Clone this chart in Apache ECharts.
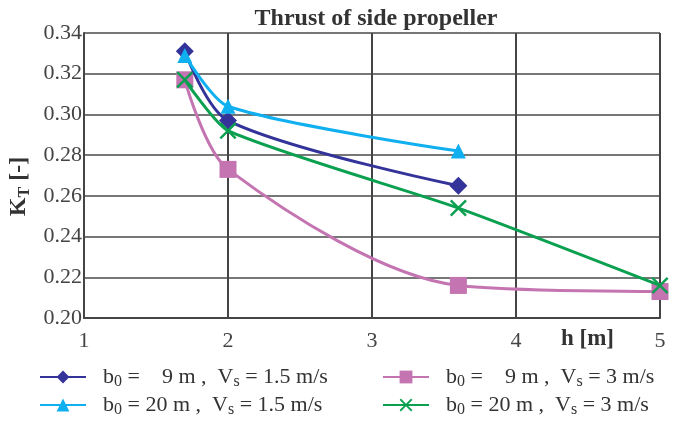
<!DOCTYPE html>
<html><head><meta charset="utf-8">
<script src="https://cdn.jsdelivr.net/npm/echarts@6/dist/echarts.min.js"></script>
<style>html,body{margin:0;padding:0;background:#fff}#c{width:682px;height:421px}</style>
</head><body><div id="c"></div>
<script>
var titleText = 'Thrust of side propeller';
var xTicks = [1, 2, 3, 4, 5];
var yTicks = [0.20, 0.22, 0.24, 0.26, 0.28, 0.30, 0.32, 0.34];
var seriesNames = ['b0=9, Vs=1.5', 'b0=20, Vs=1.5', 'b0=9, Vs=3', 'b0=20, Vs=3'];
var legendB0 = ['   9', '20', '   9', '20'];
var legendVs = ['1.5', '1.5', '3', '3'];
var h_b9_v15 = [1.7, 2.0, 3.6];
var kt_b9_v15 = [0.331, 0.297, 0.265];
var h_b20_v15 = [1.7, 2.0, 3.6];
var kt_b20_v15 = [0.329, 0.304, 0.282];
var h_b9_v3 = [1.7, 2.0, 3.6, 5.0];
var kt_b9_v3 = [0.317, 0.273, 0.216, 0.213];
var h_b20_v3 = [1.7, 2.0, 3.6, 5.0];
var kt_b20_v3 = [0.317, 0.292, 0.254, 0.216];

function pairs(xs, ys) { return xs.map(function (x, i) { return [x, ys[i]]; }); }
var serif = 'Liberation Serif';
var cross = 'path://M0,1 L1,0 L5,4 L9,0 L10,1 L6,5 L10,9 L9,10 L5,6 L1,10 L0,9 L4,5 Z';
var colors = ['#333399', '#10b0f0', '#c474b0', '#0aa050'];
var symbols = ['diamond', 'triangle', 'rect', cross];
var sizes = [18, 15, 17, 17];
var smooths = [0.3, 0.25, 0.3, 0.2];
var datas = [pairs(h_b9_v15, kt_b9_v15), pairs(h_b20_v15, kt_b20_v15), pairs(h_b9_v3, kt_b9_v3), pairs(h_b20_v3, kt_b20_v3)];

var series = seriesNames.map(function (n, i) {
  return {
    name: n, type: 'line', data: datas[i], smooth: smooths[i],
    symbol: symbols[i], symbolSize: sizes[i],
    lineStyle: { color: colors[i], width: 3 },
    itemStyle: { color: colors[i] },
    z: i === 2 ? 2 : 3
  };
});

var rich = {
  t: { fontFamily: serif, fontSize: 22, color: '#333', lineHeight: 26 },
  s: { fontFamily: serif, fontSize: 16, color: '#333', lineHeight: 10, verticalAlign: 'bottom' }
};
function legendFmt(name) {
  var i = seriesNames.indexOf(name);
  return '{t|b}{s|0}{t| = ' + legendB0[i] + ' m ,  V}{s|s}{t| = ' + legendVs[i] + ' m/s}';
}
function legendCfg(left, top, item) {
  return {
    orient: 'horizontal', left: left, top: top, padding: 0,
    itemWidth: 46, itemHeight: 16, itemGap: 0,
    data: [item], formatter: legendFmt,
    textStyle: { rich: rich, padding: [0, 0, 0, 12] }
  };
}

var chart = echarts.init(document.getElementById('c'));
chart.setOption({
  animation: false,
  backgroundColor: '#fff',
  title: {
    text: titleText, left: 371, top: 2, textAlign: 'center',
    textStyle: { fontFamily: serif, fontWeight: 'bold', fontSize: 24, color: '#333' }
  },
  legend: [
    legendCfg(39, 366, seriesNames[0]),
    legendCfg(39, 394, seriesNames[1]),
    legendCfg(382, 366, seriesNames[2]),
    legendCfg(382, 394, seriesNames[3])
  ],
  grid: { left: 84, right: 22, top: 33, bottom: 103, show: false, outerBoundsMode: 'none', containLabel: false },
  xAxis: {
    type: 'value', min: xTicks[0], max: xTicks[xTicks.length - 1], interval: 1,
    axisLine: { show: true, lineStyle: { color: '#444', width: 2 } },
    axisTick: { show: false },
    axisLabel: { fontFamily: serif, fontSize: 22, color: '#444', margin: 12 },
    splitLine: { show: true, lineStyle: { color: '#444', width: 2 } }
  },
  yAxis: {
    type: 'value', min: yTicks[0], max: yTicks[yTicks.length - 1], interval: 0.02,
    name: '{b|K}{bs|T}{b| [-]}', nameLocation: 'middle', nameGap: 51, nameRotate: 90,
    nameMoveOverlap: false,
    nameTextStyle: {
      padding: [0, 22, 0, 0],
      rich: {
        b: { fontFamily: serif, fontWeight: 'bold', fontSize: 24, color: '#333', lineHeight: 28 },
        bs: { fontFamily: serif, fontWeight: 'bold', fontSize: 16, color: '#333', lineHeight: 10, verticalAlign: 'bottom' }
      }
    },
    axisLine: { show: true, lineStyle: { color: '#444', width: 2 } },
    axisTick: { show: false },
    axisLabel: { fontFamily: serif, fontSize: 22, color: '#444', margin: 2, formatter: function (v) { return v.toFixed(2); } },
    splitLine: { show: true, lineStyle: { color: '#777', width: 2 } }
  },
  graphic: [{
    type: 'text', left: 561, top: 328,
    style: { text: 'h [m]', font: 'bold 23px "Liberation Serif"', fill: '#333' }
  }],
  series: series
});
</script></body></html>
